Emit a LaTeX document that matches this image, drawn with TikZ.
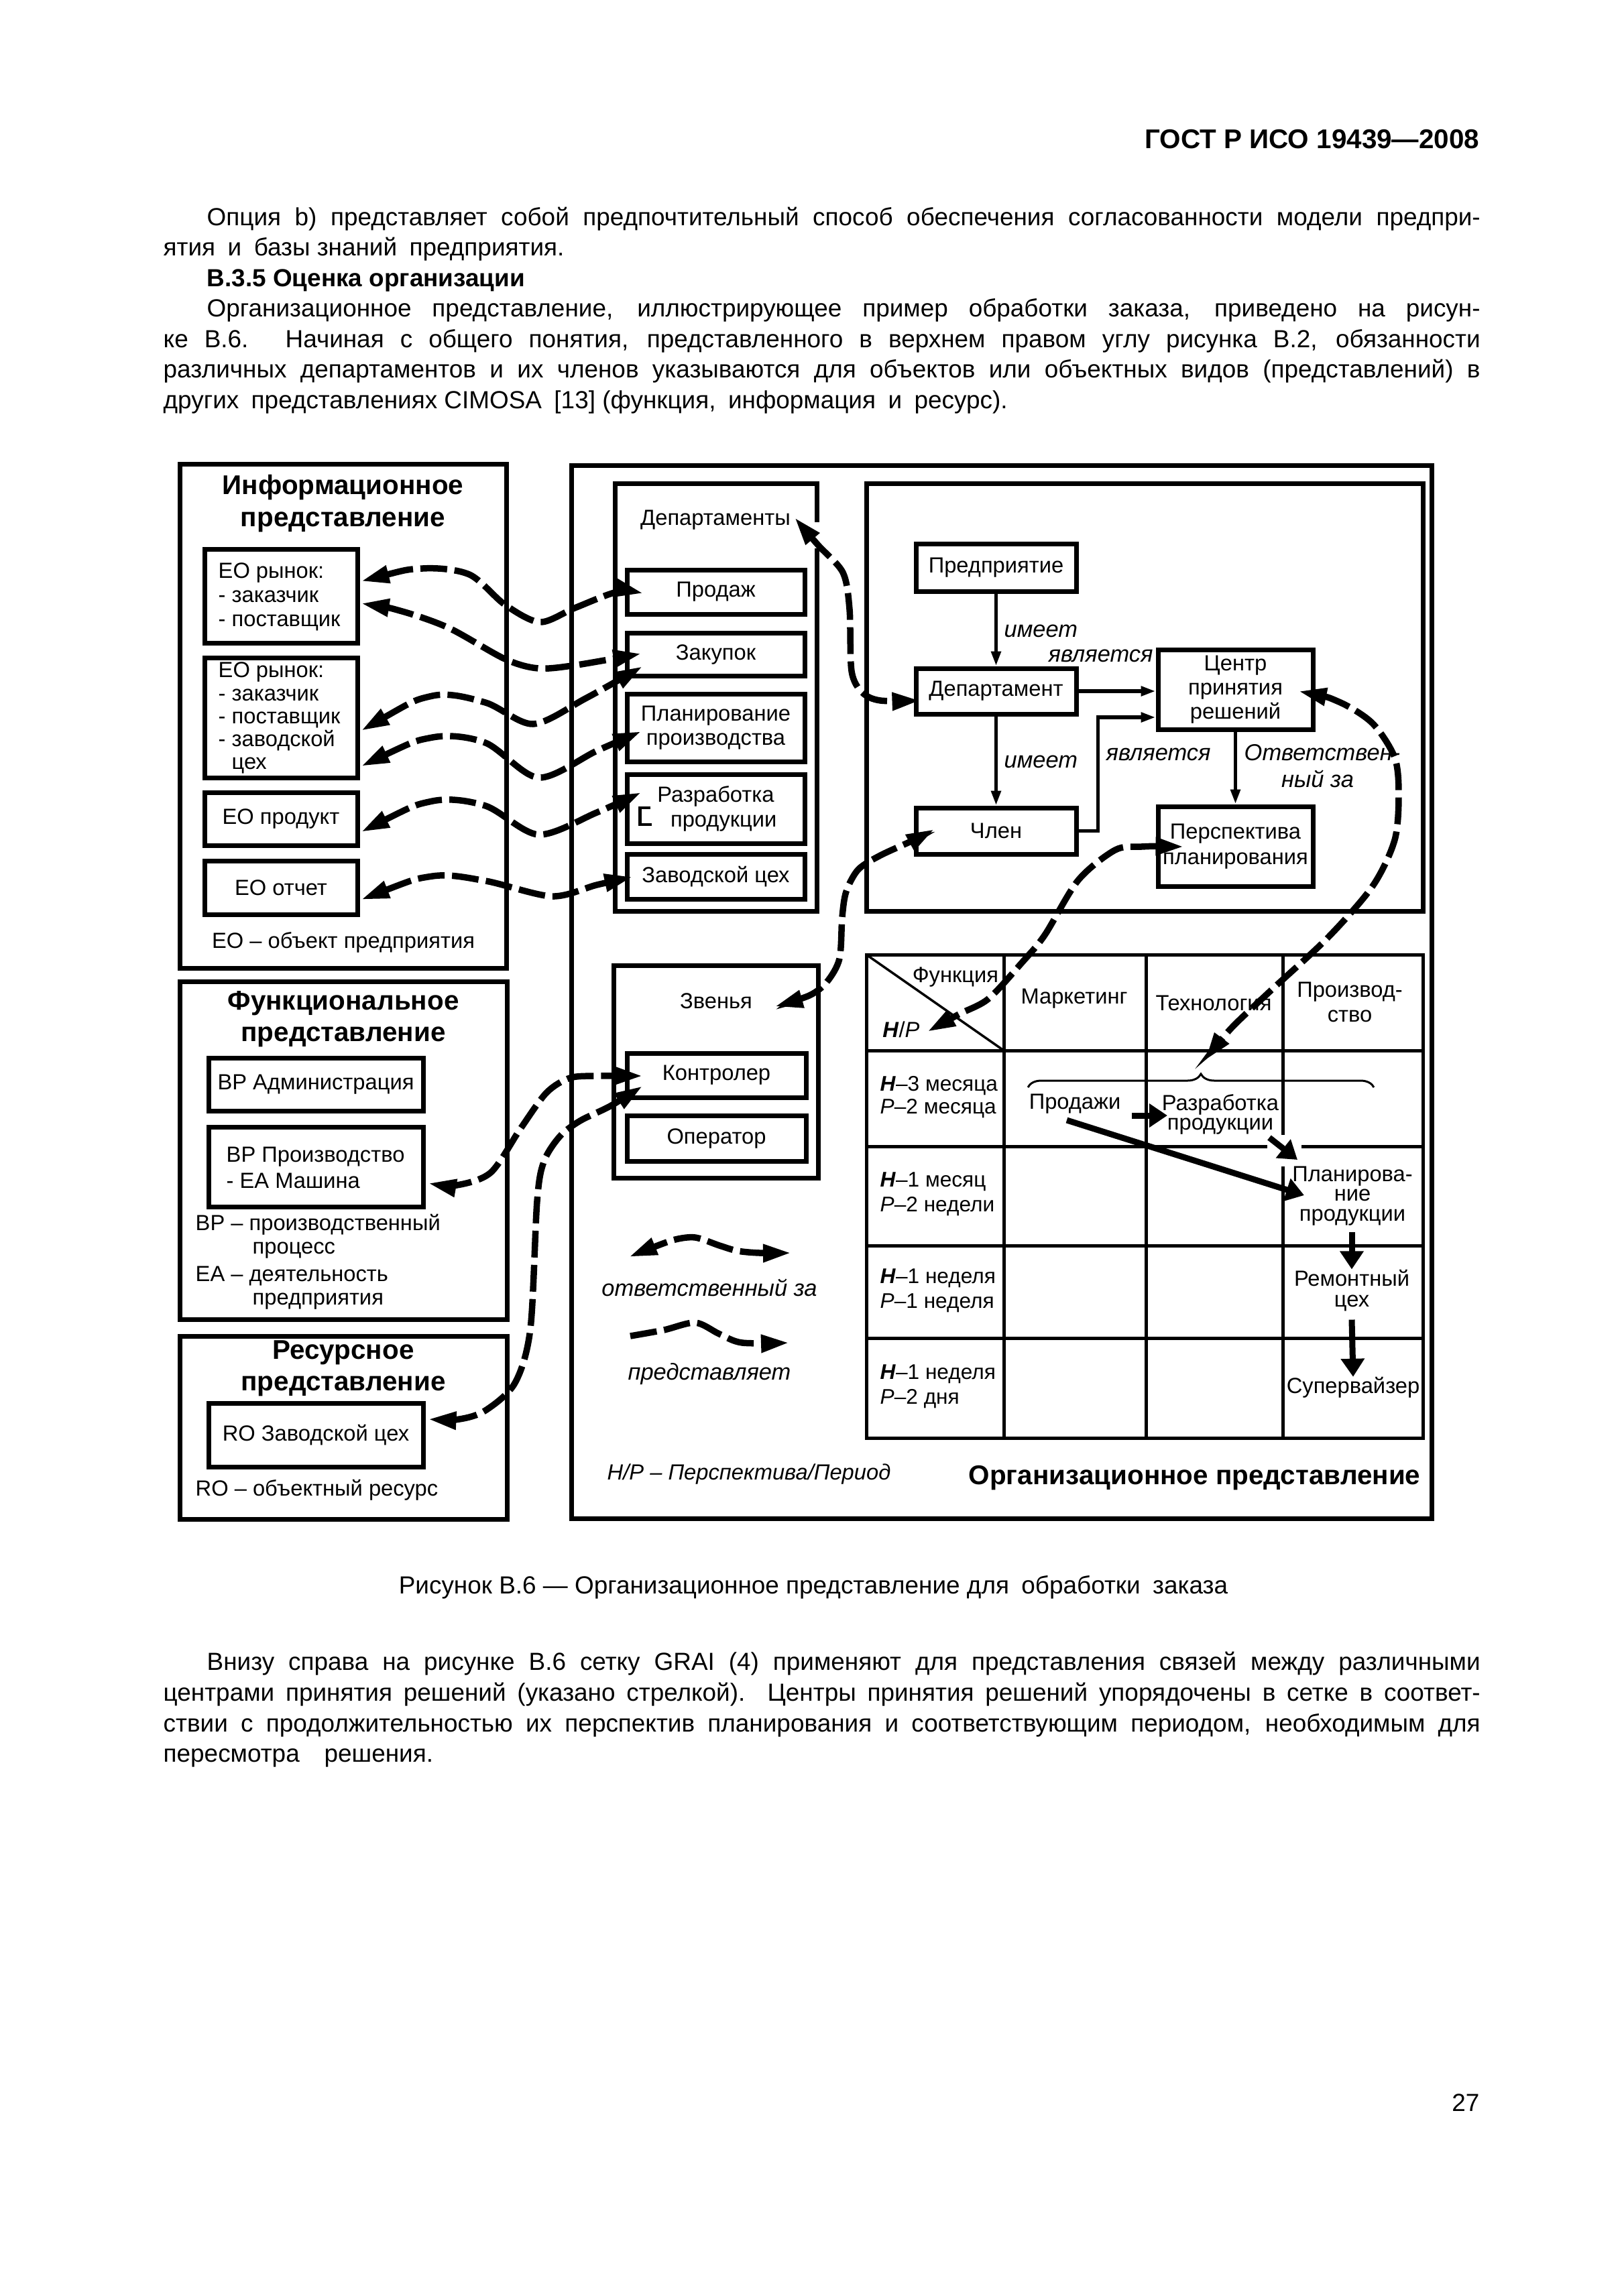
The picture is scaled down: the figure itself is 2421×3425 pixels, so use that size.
\documentclass[tikz,border=0pt]{standalone}
\usepackage{fontspec}
\setmainfont{Liberation Sans}
\usetikzlibrary{arrows.meta,calc,decorations.pathreplacing}
\newcommand\fnorm{\fontsize{9.3}{10.3}\selectfont}
\newcommand\fbody{\fontsize{10.5}{12.8}\selectfont}
\newcommand\ftitle{\fontsize{11.5}{13.4}\selectfont\bfseries}
\newcommand\fital{\fontsize{9.8}{11}\selectfont\itshape}
\newcommand\dsp{\hspace{0.5em}}
\begin{document}
\begin{tikzpicture}[x=0.1mm,y=-0.1mm,
  bx/.style={draw, line width=0.7mm, inner sep=0pt, font=\fnorm, align=center},
  txt/.style={inner sep=0pt, font=\fnorm, align=center},
  body/.style={inner sep=0pt, font=\fbody, anchor=base west},
  lbl/.style={inner sep=0pt, font=\fital},
  resp/.style={line width=0.95mm, dash pattern=on 4mm off 1.1mm, {Triangle[length=4.2mm,width=2.5mm]}-{Triangle[length=4.2mm,width=2.5mm]}},
  repr/.style={line width=0.95mm, dash pattern=on 4mm off 1.1mm, -{Triangle[length=4.2mm,width=2.5mm]}},
  thinarr/.style={line width=0.55mm, -{Triangle[length=2.2mm,width=1.4mm]}},
  fatarr/.style={line width=0.9mm, -{Triangle[length=2.7mm,width=3.4mm]}},
  gridl/.style={line width=0.5mm}]
\fill[white] (0,0) rectangle (2421,3425);
\useasboundingbox (0,0) rectangle (2421,3425);

% ---------- page text ----------
\node[inner sep=0pt, anchor=base east, font=\ftitle] (hdr) at (2207,221) {ГОСТ Р ИСО 19439—2008};
\node[body] (p1a) at (308,336) {\makebox[189.9mm][s]{Опция b) представляет собой предпочтительный способ обеспечения согласованности модели предпри-}};
\node[body] (p1b) at (243,381.5) {ятия\dsp и\dsp базы знаний\dsp предприятия.};
\node[body] (h1) at (308,427) {\bfseries В.3.5 Оценка организации};
\node[body] (p2a) at (308,472.5) {\makebox[189.9mm][s]{Организационное представление, иллюстрирующее пример обработки заказа, приведено на рисун-}};
\node[body] (p2b) at (243,518) {\makebox[196.4mm][s]{ке В.6. Начиная с общего понятия, представленного в верхнем правом углу рисунка В.2, обязанности}};
\node[body] (p2c) at (243,563.5) {\makebox[196.4mm][s]{различных департаментов и их членов указываются для объектов или объектных видов (представлений) в}};
\node[body] (p2d) at (243,609) {других\dsp представлениях CIMOSA\dsp [13] (функция,\dsp информация\dsp и\dsp ресурс).};
\node[inner sep=0pt, font=\fbody, anchor=base] (cap) at (1213,2377) {Рисунок В.6 — Организационное представление для\dsp обработки\dsp заказа};
\node[body] (b1) at (308,2491) {\makebox[189.9mm][s]{Внизу справа на рисунке В.6 сетку GRAI (4) применяют для представления связей между различными}};
\node[body] (b2) at (243,2537) {\makebox[196.4mm][s]{центрами принятия решений (указано стрелкой). Центры принятия решений упорядочены в сетке в соответ-}};
\node[body] (b3) at (243,2583) {\makebox[196.4mm][s]{ствии с продолжительностью их перспектив планирования и соответствующим периодом, необходимым для}};
\node[body] (b4) at (243,2628) {пересмотра\dsp\dsp решения.};
\node[inner sep=0pt, font=\fbody, anchor=base east] (pgno) at (2207,3149) {27};

% ---------- information view ----------
\node[bx, minimum width=48.7mm, minimum height=75.2mm] (infop) at (511.5,1068) {};
\node[txt, font=\ftitle] (infot) at (511.5,751) {Информационное\\представление};
\node[bx, minimum width=22.8mm, minimum height=14mm] (eo1) at (419,889) {};
\node[txt, align=left, anchor=west, font=\fontsize{9.3}{10.2}\selectfont] (eo1t) at (325,890) {ЕО рынок:\\- заказчик\\- поставщик};
\node[bx, minimum width=22.8mm, minimum height=17.9mm] (eo2) at (419,1070.5) {};
\node[txt, align=left, anchor=west, font=\fontsize{9.3}{9.7}\selectfont] (eo2t) at (325,1071) {ЕО рынок:\\- заказчик\\- поставщик\\- заводской\\\phantom{- }цех};
\node[bx, minimum width=22.8mm, minimum height=7.9mm] (eoprod) at (419,1221.5) {ЕО продукт};
\node[bx, minimum width=22.8mm, minimum height=8mm] (eorep) at (419,1324) {ЕО отчет};
\node[txt] (eoleg) at (512,1406) {ЕО – объект предприятия};

% ---------- functional view ----------
\node[bx, minimum width=48.8mm, minimum height=50.4mm] (funcp) at (512,1716) {};
\node[txt, font=\ftitle] (funct) at (512,1520) {Функциональное\\представление};
\node[bx, minimum width=32mm, minimum height=7.9mm] (bpadm) at (471,1617.5) {ВР Администрация};
\node[bx, minimum width=32mm, minimum height=11.9mm] (bpprod) at (471,1740.5) {};
\node[txt, align=left, anchor=west, font=\fontsize{9.3}{11.3}\selectfont] (bpprodt) at (337,1742) {ВР Производство\\- ЕА Машина};
\node[txt, anchor=west] (fl1) at (291,1827) {ВР – производственный};
\node[txt, anchor=west] (fl2) at (376,1865) {процесс};
\node[txt, anchor=west] (fl3) at (291,1903) {ЕА – деятельность};
\node[txt, anchor=west] (fl4) at (376,1941) {предприятия};

% ---------- resource view ----------
\node[bx, minimum width=48.8mm, minimum height=27.3mm] (resp) at (512,2129.5) {};
\node[txt, font=\ftitle] (rest) at (512,2041.5) {Ресурсное\\представление};
\node[bx, minimum width=32mm, minimum height=9.5mm] (ro) at (471,2140.5) {RO Заводской цех};
\node[txt, anchor=west] (roleg) at (291,2223) {RO – объектный ресурс};

% ---------- organisational view ----------
\node[bx, minimum width=128.3mm, minimum height=157.1mm] (org) at (1493.5,1479.5) {};
\node[bx, minimum width=30.1mm, minimum height=63.8mm] (depbox) at (1067.5,1040) {};
\fill[white] (1208,779) rectangle (1228,818);
\node[txt] (deps) at (1067,776) {Департаменты};
\node[bx, minimum width=26.5mm, minimum height=6.6mm] (prod) at (1067.5,883) {Продаж};
\node[bx, minimum width=26.5mm, minimum height=6.4mm] (zak) at (1067.5,976) {Закупок};
\node[bx, minimum width=26.5mm, minimum height=10.1mm] (plan) at (1067.5,1085.5) {Планирование\\производства};
\node[bx, minimum width=26.5mm, minimum height=10.3mm, font=\fontsize{9.3}{10.6}\selectfont] (razr) at (1067.5,1206.5) {Разработка\\\phantom{П}продукции};
\draw[line width=0.45mm] (970,1205) -- (954.5,1205) -- (954.5,1230) -- (972,1230);
\node[bx, minimum width=26.5mm, minimum height=6.7mm] (zav) at (1067.5,1307.5) {Заводской цех};

\node[bx, minimum width=30.5mm, minimum height=31.7mm] (zvbox) at (1067.5,1598.5) {};
\node[txt] (zv) at (1068,1493) {Звенья};
\node[bx, minimum width=26.7mm, minimum height=6.6mm] (ctrl) at (1068.5,1604) {Контролер};
\node[bx, minimum width=26.7mm, minimum height=6.8mm] (oper) at (1068.5,1698) {Оператор};

% entity model
\node[bx, minimum width=83mm, minimum height=63.8mm] (entbox) at (1707,1040) {};
\node[bx, minimum width=23.9mm, minimum height=7.1mm] (pred) at (1485.5,846.5) {Предприятие};
\node[bx, minimum width=23.9mm, minimum height=6.8mm] (dept) at (1485.5,1031) {Департамент};
\node[bx, minimum width=23.9mm, minimum height=6.9mm] (chlen) at (1485.5,1239.5) {Член};
\node[bx, minimum width=23.1mm, minimum height=11.9mm, font=\fontsize{9.3}{10.2}\selectfont] (centr) at (1842.5,1028.5) {Центр\\принятия\\решений};
\node[bx, minimum width=23.1mm, minimum height=11.9mm, font=\fontsize{9.3}{11}\selectfont] (persp) at (1842.5,1262.5) {Перспектива\\планирования};
\draw[thinarr] (pred.south) -- (dept.north);
\draw[thinarr] (dept.south) -- (chlen.north);
\draw[thinarr] (dept.east) -- (centr.west |- dept.east);
\draw[thinarr] (chlen.east) -- ++(29,0) |- ($(centr.west)+(0,41.5)$);
\draw[thinarr] (centr.south) -- (persp.north);
\node[lbl, anchor=west] (l1) at (1497,941) {имеет};
\node[lbl, anchor=west] (l2) at (1563,978) {является};
\node[lbl, anchor=west] (l3) at (1497,1136) {имеет};
\node[lbl, anchor=west] (l4) at (1649,1125) {является};
\node[lbl, anchor=west] (l5) at (1855,1123) {Ответствен-};
\node[lbl] (l6) at (1965,1162) {ный за};

% GRAI grid
\draw[gridl] (1292,1424) rectangle (2122,2145);
\foreach \gx in {1497,1709,1913} \draw[gridl] (\gx,1424) -- (\gx,2145);
\foreach \gy in {1567,1710,1858,1996} \draw[gridl] (1292,\gy) -- (2122,\gy);
\draw[line width=0.35mm] (1292,1424) -- (1497,1567);
\fill[white] (1890,1703) rectangle (1941,1717);
\fill[white] (1906,1693) rectangle (1920,1740);
\node[txt] (fn) at (1425,1458) {Функция};
\node[txt] (hp) at (1344,1536) {\textbf{\textit{H}}/\textit{P}};
\node[txt] (mk) at (1602,1490) {Маркетинг};
\node[txt] (tech) at (1810,1496) {Технология};
\node[txt, font=\fontsize{9.3}{10.5}\selectfont] (prz) at (2013,1495) {Производ-\\ство};
\node[txt, align=left, anchor=west, font=\fontsize{9}{9.7}\selectfont] (r1) at (1312,1637) {\textbf{\textit{H}}–3 месяца\\\textit{P}–2 месяца};
\node[txt, align=left, anchor=west, font=\fontsize{9}{10.5}\selectfont] (r2) at (1312,1781.5) {\textbf{\textit{H}}–1 месяц\\\textit{P}–2 недели};
\node[txt, align=left, anchor=west, font=\fontsize{9}{10.5}\selectfont] (r3) at (1312,1925.5) {\textbf{\textit{H}}–1 неделя\\\textit{P}–1 неделя};
\node[txt, align=left, anchor=west, font=\fontsize{9}{10.5}\selectfont] (r4) at (1312,2068.5) {\textbf{\textit{H}}–1 неделя\\\textit{P}–2 дня};
\draw[decorate, decoration={brace, amplitude=2mm}, line width=0.3mm] (1533,1622) -- (2049,1622);
\coordinate (bracetip) at (1791,1600);
\node[txt] (sales) at (1603,1647) {Продажи};
\node[txt, font=\fontsize{9.3}{8.3}\selectfont] (razr2) at (1820,1662) {Разработка\\продукции};
\node[txt, font=\fontsize{9.3}{8.5}\selectfont] (plan2) at (2017,1784) {Планирова-\\ние\\продукции};
\node[txt, font=\fontsize{9.3}{8.8}\selectfont] (rem) at (2016,1925) {Ремонтный\\цех};
\node[txt] (sup) at (2018,2070) {Супервайзер};
\coordinate (t1s) at (1688,1664); \coordinate (t1e) at (1741,1664);
\coordinate (t2s) at (1591,1671); \coordinate (t2e) at (1945,1783);
\coordinate (t3s) at (1893,1697); \coordinate (t3e) at (1935,1730);
\draw[fatarr] (t1s) -- (t1e);
\draw[fatarr] (t2s) -- (t2e);
\draw[fatarr] (t3s) -- (t3e);
\draw[fatarr] (2016,1838) -- (rem.north);
\draw[fatarr] (rem.south) ++(0,12) -- (sup.north);

% legend
\node[inner sep=0pt, font=\fontsize{9.8}{11}\selectfont\itshape] (lg1t) at (1058,1921) {ответственный за};
\node[inner sep=0pt, font=\fontsize{9.8}{11}\selectfont\itshape] (lg2t) at (1058,2050) {представляет};
\coordinate (lg1a) at (938,1875); \coordinate (lg1b) at (1180,1869);
\coordinate (lg2a) at (940,1993); \coordinate (lg2b) at (1177,2003);
\draw[resp] plot[smooth] coordinates {(lg1a) (973,1861) (1007,1849) (1037,1846) (1073,1858) (1100,1866) (1133,1869) (lg1b)};
\draw[repr] plot[smooth] coordinates {(lg2a) (990,1984) (1037,1973) (1073,1990) (1107,2003) (lg2b)};
\node[inner sep=0pt, anchor=west, font=\fnorm\itshape] (hpleg) at (905,2199) {H/P – Перспектива/Период};
\node[inner sep=0pt, anchor=east, font=\ftitle] (orgt) at (2119,2205) {Организационное представление};

% ---------- dashed connectors ----------
\coordinate (c1a) at ($(eo1.east)+(2,-22)$); \coordinate (c1b) at ($(prod.west)+(28,2)$);
\draw[resp] plot[smooth] coordinates {(c1a) (630,848) (700,857) (753,902) (805,928) (857,907) (920,883) (c1b)};
\coordinate (c2a) at ($(eo1.east)+(2,11)$); \coordinate (c2b) at ($(zak.west)+(25,-1)$);
\draw[resp] plot[smooth] coordinates {(c2a) (600,912) (670,937) (753,983) (803,997) (860,992) (c2b)};
\coordinate (c3a) at ($(eo2.east)+(2,19.5)$); \coordinate (c3b) at ($(zak.west)+(27,18)$);
\draw[resp] plot[smooth] coordinates {(c3a) (645,1038) (724,1048) (795,1080) (873,1042) (c3b)};
\coordinate (c4a) at ($(eo2.east)+(2,72.5)$); \coordinate (c4b) at ($(plan.west)+(25,5.5)$);
\draw[resp] plot[smooth] coordinates {(c4a) (645,1100) (724,1108) (803,1160) (890,1120) (c4b)};
\coordinate (c5a) at ($(eoprod.east)+(2,19.5)$); \coordinate (c5b) at ($(razr.west)+(25,-24.5)$);
\draw[resp] plot[smooth] coordinates {(c5a) (645,1195) (724,1202) (803,1245) (890,1212) (c5b)};
\coordinate (c6a) at ($(eorep.east)+(2,18)$); \coordinate (c6b) at ($(zav.west)+(12,0.5)$);
\draw[resp] plot[smooth] coordinates {(c6a) (645,1307) (724,1314) (823,1337) (890,1320) (c6b)};
\coordinate (c7a) at (1185,772); \coordinate (c7b) at ($(dept.west)+(10,14)$);
\draw[resp] plot[smooth] coordinates {(c7a) (1220,813) (1257,854) (1267,909) (1270,1001) (1286,1033) (1313,1045) (c7b)};
\coordinate (c8a) at ($(chlen.west)+(31,-2.5)$); \coordinate (c8b) at ($(zvbox.north east)+(-68,65)$);
\draw[resp] plot[smooth] coordinates {(c8a) (1363,1253) (1313,1276) (1280,1297) (1262,1330) (1256,1368) (1252,1430) (1233,1465) (1207,1485) (c8b)};
\coordinate (c9a) at ($(persp.west)+(42,0.5)$); \coordinate (c9b) at (1383,1539);
\draw[resp] plot[smooth] coordinates {(c9a) (1702,1263) (1663,1268) (1608,1313) (1558,1395) (1524,1436) (1474,1490) (1430,1513) (c9b)};
\coordinate (c10a) at ($(centr.east)+(-25,2.5)$); \coordinate (c10b) at ($(bracetip)+(6,-18)$);
\draw[resp] plot[smooth] coordinates {(c10a) (1997,1047) (2047,1079) (2080,1130) (2086,1185) (2080,1253) (2047,1322) (1980,1399) (1897,1476) (1836,1534) (c10b)};
\coordinate (c11a) at ($(bpprod.east)+(4,24.5)$); \coordinate (c11b) at ($(ctrl.west)+(27,1)$);
\draw[resp] plot[smooth] coordinates {(c11a) (681,1768) (732,1749) (776,1684) (815,1630) (850,1608) (890,1605) (c11b)};
\coordinate (c12a) at ($(ro.east)+(4,-23.5)$); \coordinate (c12b) at ($(ctrl.west)+(27,16)$);
\draw[resp] plot[smooth] coordinates {(c12a) (685,2117) (724,2104) (768,2063) (791,1982) (801,1792) (811,1733) (835,1695) (865,1672) (910,1650) (c12b)};
\end{tikzpicture}
\end{document}
